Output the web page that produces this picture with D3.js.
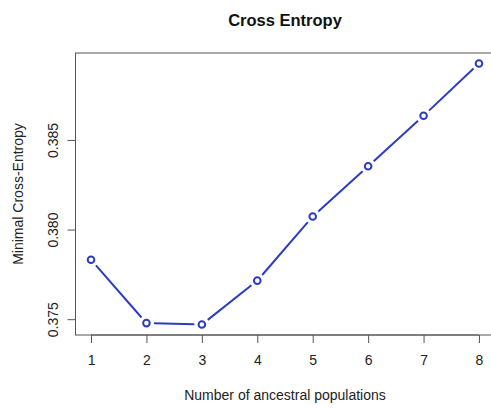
<!DOCTYPE html>
<html>
<head>
<meta charset="utf-8">
<script src="https://cdn.jsdelivr.net/npm/d3@7"></script>
<style>
  html, body { margin: 0; padding: 0; background: #fff; }
  svg { display: block; font-family: "Liberation Sans", Arial, Helvetica, sans-serif; }
</style>
</head>
<body>
<svg id="chart" width="491" height="408"></svg>
<script>
// Number of ancestral populations (K) and the minimal cross-entropy for each
const kValues = [1, 2, 3, 4, 5, 6, 7, 8];
const crossEntropy = [0.37832, 0.37478, 0.37470, 0.37715, 0.38073, 0.38353, 0.38635, 0.38927];
const yTickValues = [0.375, 0.380, 0.385];
const xTickValues = [1, 2, 3, 4, 5, 6, 7, 8];

const titleText = "Cross Entropy";
const xLabel = "Number of ancestral populations";
const yLabel = "Minimal Cross-Entropy";

const svg = d3.select("#chart");
const box = { left: 75.5, right: 494.5, top: 53, bottom: 335 };
const lineColor = "#2b3cc4";
const labelSize = 14;

// R-style axis ranges: data extent padded by 4% on each side
function padded(ext) {
  const d = (ext[1] - ext[0]) * 0.04;
  return [ext[0] - d, ext[1] + d];
}

const x = d3.scaleLinear().domain(padded(d3.extent(kValues))).range([box.left, box.right]);
const y = d3.scaleLinear().domain(padded(d3.extent(crossEntropy))).range([box.bottom, box.top]);

// plot frame
svg.append("rect")
  .attr("x", box.left).attr("y", box.top)
  .attr("width", box.right - box.left).attr("height", box.bottom - box.top)
  .attr("fill", "none").attr("stroke", "#555").attr("stroke-width", 1);

// x axis
const xAxis = svg.append("g")
  .attr("transform", `translate(0,${box.bottom})`)
  .call(d3.axisBottom(x).tickValues(xTickValues).tickSize(8).tickPadding(12).tickFormat(d3.format("d")));
xAxis.select(".domain").attr("d", `M${x(xTickValues[0])},0H${x(xTickValues[xTickValues.length - 1])}`).attr("stroke", "#555");
xAxis.selectAll(".tick line").attr("stroke", "#555");
xAxis.selectAll(".tick text").attr("font-size", labelSize).attr("fill", "#222").attr("font-family", "Liberation Sans, Arial, sans-serif");

// y axis with rotated tick labels
const yAxis = svg.append("g")
  .attr("transform", `translate(${box.left},0)`)
  .call(d3.axisLeft(y).tickValues(yTickValues).tickSize(8).tickFormat(d3.format(".3f")));
yAxis.select(".domain").attr("d", `M0,${y(yTickValues[0])}V${y(yTickValues[yTickValues.length - 1])}`).attr("stroke", "#555");
yAxis.selectAll(".tick line").attr("stroke", "#555");
yAxis.selectAll(".tick text")
  .attr("x", null).attr("dy", null)
  .attr("transform", "translate(-18,0) rotate(-90)")
  .attr("text-anchor", "middle")
  .attr("font-size", labelSize).attr("fill", "#222").attr("font-family", "Liberation Sans, Arial, sans-serif");

// line segments with gaps around the points (type = "b")
const pts = kValues.map((k, i) => [x(k), y(crossEntropy[i])]);
const gap = 7.5;
const segs = d3.pairs(pts).map(([a, b]) => {
  const dx = b[0] - a[0], dy = b[1] - a[1];
  const len = Math.hypot(dx, dy);
  const ux = dx / len, uy = dy / len;
  return [[a[0] + ux * gap, a[1] + uy * gap], [b[0] - ux * gap, b[1] - uy * gap]];
}).filter(s => (s[1][0] - s[0][0]) > 0);

svg.append("g").selectAll("line").data(segs).join("line")
  .attr("x1", d => d[0][0]).attr("y1", d => d[0][1])
  .attr("x2", d => d[1][0]).attr("y2", d => d[1][1])
  .attr("stroke", lineColor).attr("stroke-width", 2);

svg.append("g").selectAll("circle").data(kValues).join("circle")
  .attr("cx", d => x(d))
  .attr("cy", (d, i) => y(crossEntropy[i]))
  .attr("r", 3.3)
  .attr("fill", "none").attr("stroke", lineColor).attr("stroke-width", 2);

// title and axis labels
const cx = (box.left + box.right) / 2;
svg.append("text")
  .attr("x", cx).attr("y", 26)
  .attr("text-anchor", "middle").attr("font-weight", "bold").attr("font-size", 16.5)
  .attr("fill", "#111").text(titleText);

svg.append("text")
  .attr("x", cx).attr("y", 400)
  .attr("text-anchor", "middle").attr("font-size", labelSize)
  .attr("fill", "#222").text(xLabel);

svg.append("text")
  .attr("transform", `translate(23,${(box.top + box.bottom) / 2}) rotate(-90)`)
  .attr("text-anchor", "middle").attr("font-size", labelSize)
  .attr("fill", "#222").text(yLabel);
</script>
</body>
</html>
